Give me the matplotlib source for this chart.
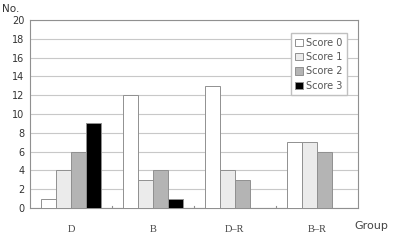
import numpy as np
import matplotlib.pyplot as plt

groups = ["D", "B", "D\u2013R", "B\u2013R"]
score_labels = ["Score 0", "Score 1", "Score 2", "Score 3"]
score0 = [1, 12, 13, 7]
score1 = [4, 3, 4, 7]
score2 = [6, 4, 3, 6]
score3 = [9, 1, 0, 0]
yticks = list(range(0, 21, 2))

colors = ["#ffffff", "#ebebeb", "#b4b4b4", "#000000"]
series = [score0, score1, score2, score3]

fig = plt.figure(figsize=(4, 2.4), dpi=100)
ax = fig.add_axes([0.075, 0.133, 0.82, 0.784])

x = np.arange(len(groups))
w = 0.185
for i, vals in enumerate(series):
    ax.bar(x + (i - 1.5) * w, vals, w, color=colors[i], edgecolor="#909090",
           linewidth=0.7, label=score_labels[i], zorder=3)

ax.set_xlim(-0.5, len(groups) - 0.5)
ax.set_ylim(0, 20)
ax.set_yticks(yticks)
ax.set_yticklabels([str(t) for t in yticks], fontsize=7, color="#333333")
ax.set_xticks(x)
ax.set_xticklabels(groups, fontsize=7.5, color="#444444", family="Liberation Serif")
ax.tick_params(axis="x", length=0, pad=12)
ax.tick_params(axis="y", length=0, pad=4)
ax.grid(axis="y", color="#c8c8c8", linewidth=0.8, zorder=0)
for s in ax.spines.values():
    s.set_color("#909090")
    s.set_linewidth(0.8)

# small separators between groups
for b in x[:-1] + 0.5:
    ax.plot([b, b], [0, 0.25], color="#909090", linewidth=0.8, zorder=4)

leg = ax.legend(loc="upper right", bbox_to_anchor=(0.98, 0.955), fontsize=7,
                handlelength=0.8, handleheight=0.8, handletextpad=0.3,
                labelspacing=0.45, borderpad=0.45, fancybox=False,
                edgecolor="#c0c0c0", framealpha=1)
for t in leg.get_texts():
    t.set_color("#555555")

fig.text(0.005, 0.95, "No.", fontsize=7.5, color="#333333")
fig.text(0.885, 0.045, "Group", fontsize=8, color="#444444")

fig.savefig("out.png", dpi=100)
